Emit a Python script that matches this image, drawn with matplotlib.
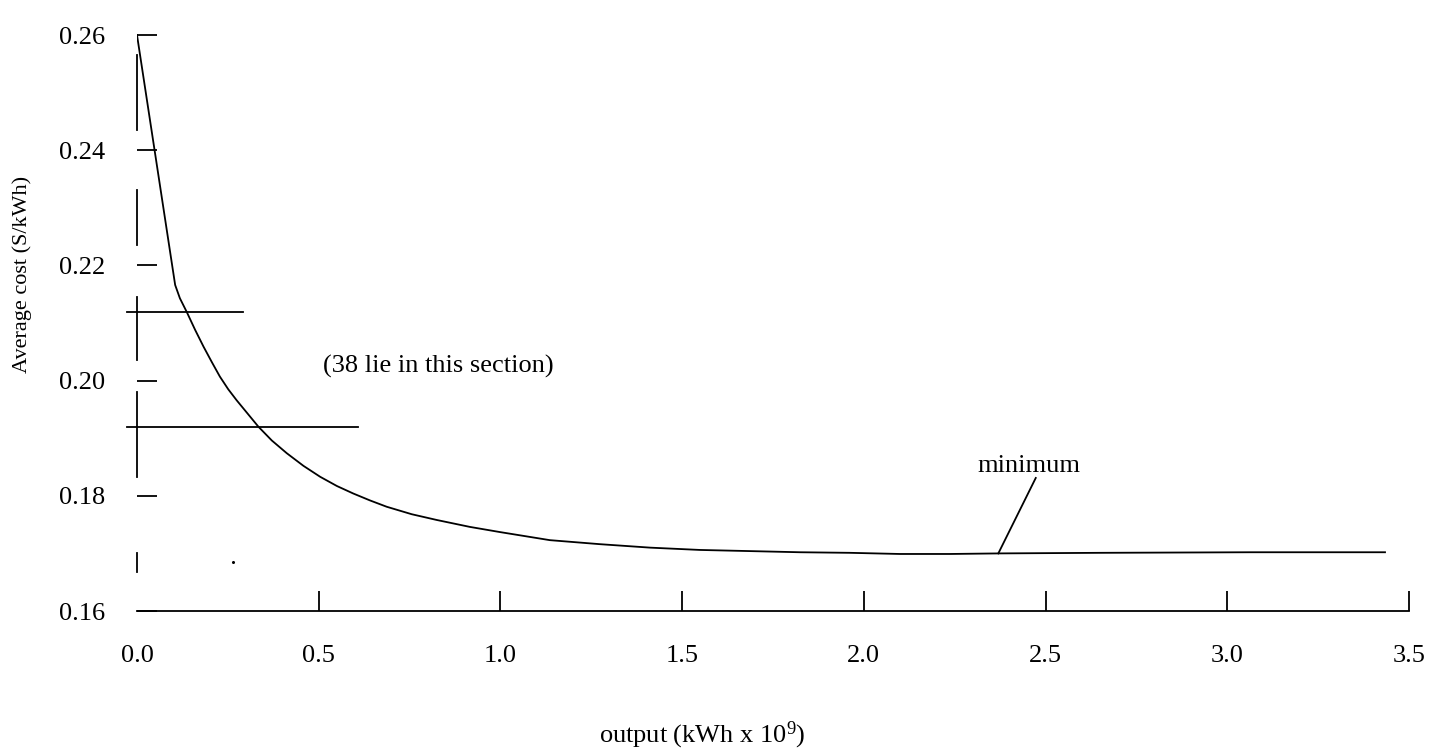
import matplotlib
matplotlib.use("Agg")
import matplotlib.pyplot as plt

plt.rcParams['font.family'] = ['Liberation Serif', 'DejaVu Serif']
plt.rcParams['mathtext.fontset'] = 'custom'
plt.rcParams['mathtext.rm'] = 'Liberation Serif'
plt.rcParams['mathtext.it'] = 'Liberation Serif:italic'
plt.rcParams['lines.scale_dashes'] = False

# average cost curve
output = [0.000, 0.105, 0.118, 0.137, 0.160, 0.183, 0.206, 0.228, 0.251,
          0.274, 0.304, 0.334, 0.371, 0.412, 0.458, 0.504, 0.550, 0.595,
          0.641, 0.687, 0.756, 0.825, 0.916, 0.999, 1.136, 1.274, 1.412,
          1.549, 1.687, 1.824, 1.962, 2.099, 2.237, 2.375, 2.650, 3.063,
          3.434]
avg_cost = [0.2600, 0.2166, 0.2143, 0.2119, 0.2088, 0.2059, 0.2032, 0.2007,
            0.1985, 0.1966, 0.1943, 0.1920, 0.1896, 0.1874, 0.1852, 0.1833,
            0.1817, 0.1804, 0.1792, 0.1781, 0.1768, 0.1758, 0.1746, 0.1737,
            0.1723, 0.1716, 0.1710, 0.1706, 0.1704, 0.1702, 0.1701, 0.1699,
            0.1699, 0.1700, 0.1701, 0.1702, 0.1702]

# the two horizontal marker lines bounding the section
band_levels = [0.2119, 0.1920]
band_start = -0.028
band_ends = [0.291, 0.609]

x_ticks = [0.0, 0.5, 1.0, 1.5, 2.0, 2.5, 3.0, 3.5]
x_labels = ['0.0', '0.5', '1.0', '1.5', '2.0', '2.5', '3.0', '3.5']
y_ticks = [0.16, 0.18, 0.20, 0.22, 0.24, 0.26]
y_labels = ['0.16', '0.18', '0.20', '0.22', '0.24', '0.26']

min_point = (2.370, 0.1700)
min_label = (2.455, 0.1852)
min_leader_top = (2.473, 0.1831)
section_label = (0.828, 0.2025)
stray_dot = (0.264, 0.1685)

px = 0.72  # points per pixel at 100 dpi
fs = 19

fig = plt.figure(figsize=(14.37, 7.54), dpi=100)
ax = fig.add_axes([137 / 1437, 143 / 754, 1272 / 1437, 595 / 754])

ax.plot(output, avg_cost, color='black', lw=1.3)

for lvl, end in zip(band_levels, band_ends):
    ax.plot([band_start, end], [lvl, lvl], color='black', lw=1.3, clip_on=False)

ax.plot([min_leader_top[0], min_point[0]], [min_leader_top[1], min_point[1]],
        color='black', lw=1.3)
ax.text(min_label[0], min_label[1], 'minimum', fontsize=fs, ha='center', va='center')
ax.text(section_label[0], section_label[1], '(38 lie in this section)',
        fontsize=fs, ha='center', va='center')
ax.plot([stray_dot[0]], [stray_dot[1]], 'o', color='black', ms=1.2)

ax.set_xlim(0, 3.5)
ax.set_ylim(0.16, 0.2633)
ax.set_xticks(x_ticks)
ax.set_xticklabels(x_labels)
ax.set_yticks(y_ticks)
ax.set_yticklabels(y_labels)

ax.spines['top'].set_visible(False)
ax.spines['right'].set_visible(False)
for s in ('left', 'bottom'):
    ax.spines[s].set_linewidth(1.3)
# the original left axis is drawn broken
dash_px = [19, 76, 85, 32, 63, 52, 55, 60, 75, 78]
ax.spines['left'].set_linestyle((556 * px, [d * px for d in dash_px]))

ax.tick_params(axis='both', direction='in', length=20 * px, width=1.3,
               labelsize=fs, colors='black')
ax.tick_params(axis='x', pad=34 * px)
ax.tick_params(axis='y', pad=32 * px)
ax.xaxis.get_major_ticks()[0].tick1line.set_visible(False)

ax.set_ylabel('Average cost (S/kWh)', fontsize=16)
ax.yaxis.set_label_coords((32 - 137) / 1272, (611 - 274) / 595)
ax.set_xlabel('output (kWh x 10$^9$)', fontsize=fs)
ax.xaxis.set_label_coords((702 - 137) / 1272, (611 - 720) / 595)

fig.savefig('out.png', dpi=100)
